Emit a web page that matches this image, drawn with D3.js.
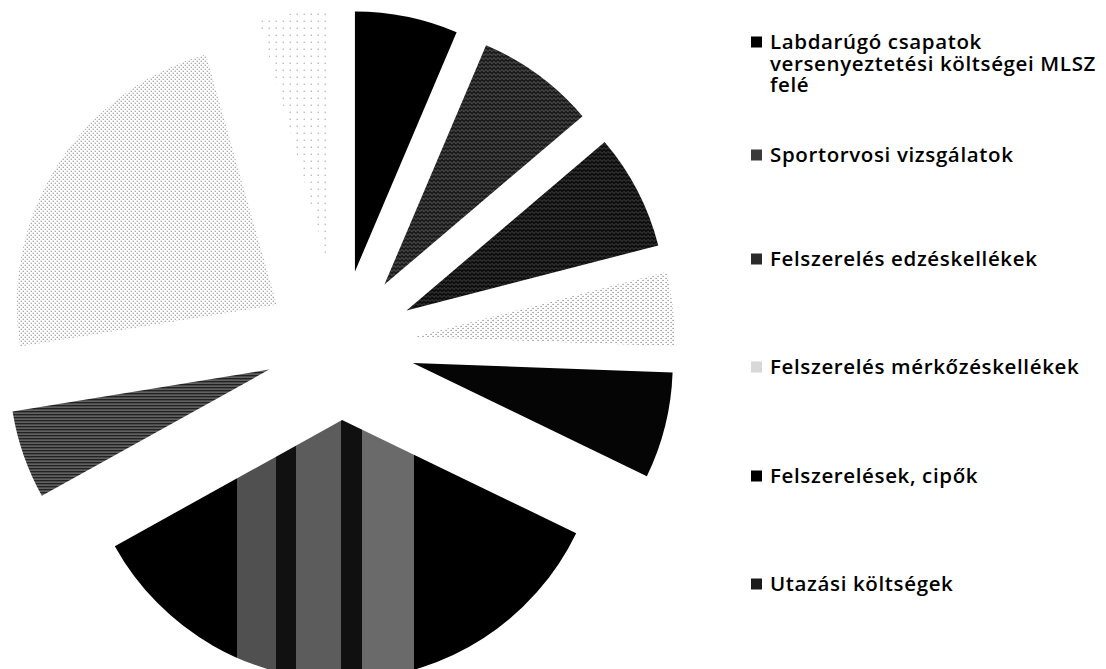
<!DOCTYPE html>
<html>
<head>
<meta charset="utf-8">
<script src="https://cdn.jsdelivr.net/npm/d3@7"></script>
<style>
  html, body { margin: 0; padding: 0; background: #fff; }
  svg { display: block; }
</style>
</head>
<body>
<svg id="chart" width="1106" height="669"></svg>
<script>
// ---- data (shares in percent) ----
const categories = [
  "Labdarúgó csapatok versenyeztetési költségei MLSZ felé",
  "Sportorvosi vizsgálatok",
  "Felszerelés edzéskellékek",
  "Felszerelés mérkőzéskellékek",
  "Felszerelések, cipők",
  "Utazási költségek",
  "(7)",
  "(8)",
  "(9)"
];
const values = [6.4, 7.4, 7.2, 4.6, 6.6, 34.8, 5.5, 23.2, 4.4];
// legend in the picture is cut off after the sixth entry
const legendLines = [
  ["Labdarúgó csapatok", "versenyeztetési költségei MLSZ", "felé"],
  ["Sportorvosi vizsgálatok"],
  ["Felszerelés edzéskellékek"],
  ["Felszerelés mérkőzéskellékek"],
  ["Felszerelések, cipők"],
  ["Utazási költségek"]
];

// ---- styles ----
const fills = ["#000", "url(#pDark)", "url(#pDark2)", "url(#pDotsA)", "#050505",
               "url(#gStripes)", "url(#pMid)", "url(#pDotsB)", "url(#pDotsC)"];
const legendFills = ["#000", "#3a3a3a", "#2a2a2a", "#d8d8d8", "#000", "#1a1a1a"];

const svg = d3.select("#chart");
const defs = svg.append("defs");

function dotPattern(id, w, h, dots, color) {
  const p = defs.append("pattern").attr("id", id).attr("patternUnits", "userSpaceOnUse")
    .attr("width", w).attr("height", h);
  p.append("rect").attr("width", w).attr("height", h).attr("fill", "#fff");
  dots.forEach(([x, y]) => p.append("rect").attr("x", x).attr("y", y).attr("width", 1).attr("height", 1).attr("fill", color));
}
dotPattern("pDotsA", 5, 4, [[1, 1], [3, 3]], "#555");
dotPattern("pDotsB", 4, 4, [[0, 0], [2, 2]], "#666");
dotPattern("pDotsC", 7, 7, [[2, 2]], "#777");

function darkPattern(id, base, speck) {
  const p = defs.append("pattern").attr("id", id).attr("patternUnits", "userSpaceOnUse")
    .attr("width", 4).attr("height", 4);
  p.append("rect").attr("width", 4).attr("height", 4).attr("fill", base);
  p.append("rect").attr("x", 1).attr("y", 1).attr("width", 1).attr("height", 1).attr("fill", speck);
  p.append("rect").attr("x", 3).attr("y", 2).attr("width", 1).attr("height", 1).attr("fill", speck);
}
darkPattern("pDark", "#1c1c1c", "#9a9a9a");
darkPattern("pDark2", "#0e0e0e", "#7a7a7a");
(function () {
  const p = defs.append("pattern").attr("id", "pMid").attr("patternUnits", "userSpaceOnUse")
    .attr("width", 4).attr("height", 3);
  p.append("rect").attr("width", 4).attr("height", 3).attr("fill", "#222");
  p.append("rect").attr("y", 1).attr("width", 4).attr("height", 1).attr("fill", "#8a8a8a");
})();

const stripeStops = [
  [0, "#000"], [0.264, "#000"], [0.264, "#505050"], [0.35, "#505050"], [0.35, "#111"],
  [0.392, "#111"], [0.392, "#5c5c5c"], [0.49, "#5c5c5c"], [0.49, "#101010"], [0.535, "#101010"],
  [0.535, "#6a6a6a"], [0.648, "#6a6a6a"], [0.648, "#000"], [1, "#000"]
];
const g = defs.append("linearGradient").attr("id", "gStripes").attr("x1", 0).attr("x2", 1).attr("y1", 0).attr("y2", 0);
stripeStops.forEach(([o, c]) => g.append("stop").attr("offset", o).attr("stop-color", c));

// ---- pie ----
const cx = 340, cy = 345, radius = 260, explode = 75;
const pie = d3.pie().sort(null).value(d => d.v);
const arcs = pie(values.map((v, i) => ({ v, name: categories[i], i })));
const arc = d3.arc().innerRadius(0).outerRadius(radius);

const pieG = svg.append("g").attr("transform", `translate(${cx},${cy})`);
pieG.selectAll("path").data(arcs).join("path")
  .attr("d", arc)
  .attr("fill", d => fills[d.index])
  .attr("transform", d => {
    const m = (d.startAngle + d.endAngle) / 2;
    return `translate(${explode * Math.sin(m)},${-explode * Math.cos(m)})`;
  });

// ---- legend ----
const legendX = 751, textX = 770, fontSize = 20.5, targetWidth = 326;
const entryY = [42, 155, 259, 367, 476, 584];
const lineH = 21.5;
const lg = svg.append("g").attr("font-family", "'Open Sans', sans-serif")
  .attr("font-size", fontSize).attr("font-weight", 600).attr("fill", "#000");
const texts = [];
legendLines.forEach((lines, i) => {
  const y0 = entryY[i];
  lg.append("rect").attr("x", legendX).attr("y", y0 - 5.5).attr("width", 11).attr("height", 11)
    .attr("fill", legendFills[i]);
  const t = lg.append("text").attr("x", textX).attr("y", y0).attr("dy", "0.35em");
  lines.forEach((s, j) => {
    t.append("tspan").attr("x", textX).attr("dy", j === 0 ? "0.35em" : lineH).text(s);
  });
  t.attr("dy", null);
  texts.push(t);
});
// stretch spacing so the widest line spans the same width as in the picture
const widest = texts[0].selectAll("tspan").nodes()[1];
const w = widest.getComputedTextLength();
const nChars = legendLines[0][1].length;
const ls = Math.max(0, (targetWidth - w) / nChars);
lg.attr("letter-spacing", ls.toFixed(2));
</script>
</body>
</html>
